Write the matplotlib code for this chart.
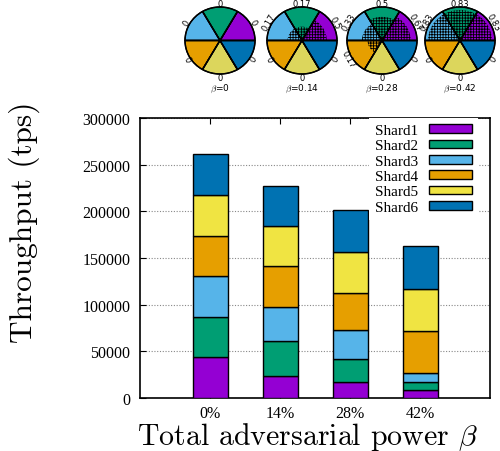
import matplotlib

matplotlib.use("Agg")
import matplotlib.pyplot as plt
import numpy as np
from matplotlib.patches import Rectangle, Wedge

plt.rcParams["mathtext.fontset"] = "cm"
plt.rcParams["hatch.linewidth"] = 0.6

# Throughput per shard for each adversarial power level
beta_labels = ["0%", "14%", "28%", "42%"]
shard_names = ["Shard1", "Shard2", "Shard3", "Shard4", "Shard5", "Shard6"]
shard1 = [43600, 23200, 16800, 8200]
shard2 = [43300, 37500, 24600, 9300]
shard3 = [43300, 37200, 31400, 8900]
shard4 = [43600, 43200, 39300, 45000]
shard5 = [43200, 43200, 43900, 45400]
shard6 = [44500, 43200, 45000, 46000]

# Adversarial share inside each shard (pie insets)
pie_titles = ["0", "0.14", "0.28", "0.42"]
adv_beta0 = [0, 0, 0, 0, 0, 0]
adv_beta14 = [0.5, 0.17, 0.17, 0, 0, 0]
adv_beta28 = [0.67, 0.5, 0.33, 0.17, 0, 0]
adv_beta42 = [0.83, 0.83, 0.83, 0, 0, 0]

bar_colors = ["#9400d3", "#009e73", "#56b4e9", "#e69f00", "#f0e442", "#0072b2"]
pie_colors = ["#9400d3", "#009e73", "#56b4e9", "#e69f00", "#dcd65c", "#0072b2"]

W, H = 500, 452
fig = plt.figure(figsize=(W / 100, H / 100), dpi=100)

# main stacked bar chart
ax = fig.add_axes([140 / W, 1 - 399 / H, 350 / W, 280 / H])
series = [shard1, shard2, shard3, shard4, shard5, shard6]
x = np.arange(1, len(beta_labels) + 1)
bottom = np.zeros(len(x))
handles = []
for name, values, color in zip(shard_names, series, bar_colors):
    ax.bar(x, values, width=0.5, bottom=bottom, color=color,
           edgecolor="black", linewidth=1.0, zorder=3)
    bottom += np.asarray(values)
    handles.append(Rectangle((0, 0), 1, 1, facecolor=color,
                             edgecolor="black", linewidth=1.0))

ax.set_xlim(0, 5)
ax.set_ylim(0, 300000)
ax.set_xticks(x)
ax.set_xticklabels(beta_labels)
ax.set_yticks(np.arange(0, 300001, 50000))
ax.yaxis.grid(True, linestyle=(0, (1, 1.5)), color="#888888",
              linewidth=0.8, zorder=0)
ax.tick_params(direction="in", top=True, right=False, length=4,
               labelsize=11.5)
ax.tick_params(axis="y", pad=7)
ax.tick_params(axis="x", pad=5)
for lab in ax.get_xticklabels() + ax.get_yticklabels():
    lab.set_family("Liberation Serif")
for spine in ax.spines.values():
    spine.set_linewidth(1.2)

ax.set_ylabel("Throughput (tps)", family="cmr10", fontsize=22.5)
ax.set_xlabel(r"Total adversarial power $\beta$", family="cmr10",
              fontsize=21.5)
ax.yaxis.set_label_coords(-0.285, 0.632)
ax.xaxis.set_label_coords(0.479, -0.077)

leg = ax.legend(handles, shard_names, loc="upper right",
                bbox_to_anchor=(0.966, 1.0), borderaxespad=0,
                markerfirst=False, frameon=True, facecolor="white",
                edgecolor="none", framealpha=1.0, fancybox=False,
                prop={"family": "Liberation Serif", "size": 11},
                handlelength=2.8, handleheight=0.5, handletextpad=0.72,
                labelspacing=0.15, borderpad=0.4)
leg.set_zorder(5)

# pie insets above the bar chart
pie_shares = [adv_beta0, adv_beta14, adv_beta28, adv_beta42]
centers = [220, 302, 382, 460]
cy, rx, ry = 41.5, 35, 33.5
for cx, shares, title in zip(centers, pie_shares, pie_titles):
    pax = fig.add_axes([(cx - 1.3 * rx) / W, 1 - (cy + 1.3 * ry) / H,
                        2.6 * rx / W, 2.6 * ry / H])
    pax.set_xlim(-1.3, 1.3)
    pax.set_ylim(-1.3, 1.3)
    pax.axis("off")
    for i, (share, color) in enumerate(zip(shares, pie_colors)):
        a0, a1 = 60 * i, 60 * (i + 1)
        pax.add_patch(Wedge((0, 0), 1, a0, a1, facecolor=color,
                            edgecolor="black", linewidth=1.0))
        if share > 0:
            pax.add_patch(Wedge((0, 0), np.sqrt(share), a0, a1,
                                facecolor="none", edgecolor="black",
                                linewidth=0, hatch="++++++"))
        mid = np.deg2rad(a0 + 30)
        rot = (a0 + 30) - 90
        if rot > 90:
            rot -= 180
        if rot < -90:
            rot += 180
        pax.text(1.1 * np.cos(mid), 1.1 * np.sin(mid), f"{share:g}",
                 rotation=rot, ha="center", va="center", fontsize=6,
                 family="DejaVu Sans", clip_on=False)
    for i in range(6):
        pax.add_patch(Wedge((0, 0), 1, 60 * i, 60 * (i + 1),
                            facecolor="none", edgecolor="black",
                            linewidth=1.0))
    pax.text(0, -1.42, rf"$\beta$=" + title, ha="center", va="center",
             fontsize=6.5, family="DejaVu Sans", clip_on=False)

fig.savefig("out.png", dpi=100)
